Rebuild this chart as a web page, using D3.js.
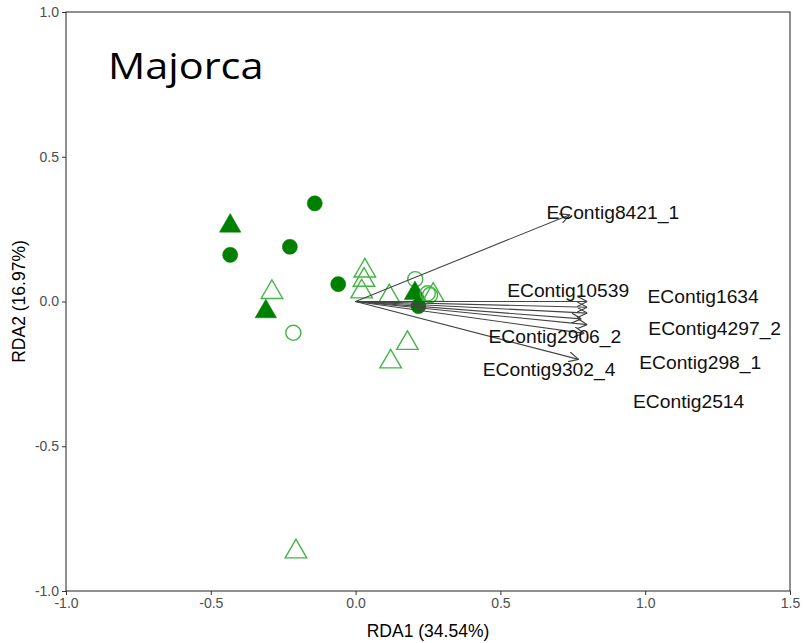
<!DOCTYPE html>
<html>
<head>
<meta charset="utf-8">
<script src="https://cdn.jsdelivr.net/npm/d3@7"></script>
<style>
  body { margin: 0; background: #fff; }
  .tick text { font-family: "Liberation Sans Narrow", "Liberation Sans", Arial, sans-serif; font-size: 14px; fill: #4d4d4d; }
  .tick line { stroke: #333; }
  .domain { display: none; }
</style>
</head>
<body>
<div id="chart"></div>
<script>
// samples (site scores)
var sampleRDA1   = [-0.141, -0.433, -0.433, -0.227, -0.060, -0.289, -0.310, -0.215, 0.032, 0.029, 0.021, 0.116, 0.206, 0.205, 0.217, 0.249, 0.257, 0.268, 0.179, 0.121, -0.206];
var sampleRDA2   = [ 0.339,  0.261,  0.161,  0.189,  0.060,  0.032, -0.035, -0.108, 0.106, 0.074, 0.034, 0.017, 0.077, 0.028, -0.016, 0.028, 0.022, 0.022, -0.144, -0.208, -0.864];
var sampleShape  = ["circle", "triangle", "circle", "circle", "circle", "triangle", "triangle", "circle", "triangle", "triangle", "triangle", "triangle", "circle", "triangle", "circle", "circle", "circle", "triangle", "triangle", "triangle", "triangle"];
var sampleFilled = [true, true, true, true, true, false, true, false, false, false, false, false, false, true, true, false, false, false, false, false, false];

// contig loadings (arrows) and label positions
var contigNames = ["EContig8421_1", "EContig10539", "EContig1634", "EContig4297_2", "EContig2906_2", "EContig298_1", "EContig9302_4", "EContig2514"];
var arrowRDA1   = [0.74, 0.80, 0.80, 0.80, 0.78, 0.80, 0.77, 0.79];
var arrowRDA2   = [0.30, 0.00, -0.02, -0.04, -0.06, -0.08, -0.20, -0.11];
var labelRDA1   = [0.888, 0.734, 1.200, 1.240, 0.688, 1.190, 0.668, 1.150];
var labelRDA2   = [0.306, 0.036, 0.016, -0.095, -0.123, -0.210, -0.235, -0.345];

var xTicks = [-1.0, -0.5, 0.0, 0.5, 1.0, 1.5];
var yTicks = [-1.0, -0.5, 0.0, 0.5, 1.0];

var margin = {top: 12, right: 16, bottom: 52, left: 66},
    width  = 806 - margin.left - margin.right,
    height = 643 - margin.top  - margin.bottom;

var svg = d3.select("#chart").append("svg")
    .attr("width", 806)
    .attr("height", 643)
  .append("g")
    .attr("transform", "translate(" + margin.left + "," + margin.top + ")");

var x = d3.scaleLinear().domain([-1, 1.5]).range([0, width]);
var y = d3.scaleLinear().domain([-1, 1]).range([height, 0]);

var fmt = function (d) { return d.toFixed(1); };

svg.append("defs").append("marker")
    .attr("id", "head")
    .attr("viewBox", "0 0 10 10")
    .attr("refX", 10).attr("refY", 5)
    .attr("markerWidth", 10).attr("markerHeight", 10)
    .attr("markerUnits", "userSpaceOnUse")
    .attr("orient", "auto")
  .append("path")
    .attr("d", "M0,0 L10,5 L0,10")
    .attr("fill", "none")
    .attr("stroke", "#444")
    .attr("stroke-width", 1.2);

// axes
svg.append("g")
    .attr("transform", "translate(0," + height + ")")
    .call(d3.axisBottom(x).tickValues(xTicks).tickFormat(fmt).tickSize(4).tickPadding(3));

svg.append("g")
    .call(d3.axisLeft(y).tickValues(yTicks).tickFormat(fmt).tickSize(4).tickPadding(3));

// panel border
svg.append("rect")
    .attr("width", width)
    .attr("height", height)
    .attr("fill", "none")
    .attr("stroke", "#333")
    .attr("stroke-width", 1.1);

// samples
var samples = sampleRDA1.map(function (d, i) {
  return {x: d, y: sampleRDA2[i], shape: sampleShape[i], filled: sampleFilled[i]};
});

var sym = {
  circle: d3.symbol().type(d3.symbolCircle).size(180),
  triangle: d3.symbol().type(d3.symbolTriangle).size(200)
};

svg.selectAll("path.pt")
    .data(samples)
  .enter().append("path")
    .attr("class", "pt")
    .attr("transform", function (d) { return "translate(" + x(d.x) + "," + y(d.y) + ")"; })
    .attr("d", function (d) { return sym[d.shape](); })
    .attr("fill", function (d) { return d.filled ? "#008000" : "none"; })
    .attr("stroke", function (d) { return d.filled ? "#008000" : "#46b446"; })
    .attr("stroke-width", function (d) { return d.filled ? 0.5 : 1.4; });

// arrows
var arrows = contigNames.map(function (n, i) {
  return {name: n, x: arrowRDA1[i], y: arrowRDA2[i], lx: labelRDA1[i], ly: labelRDA2[i]};
});

svg.selectAll("line.arrow")
    .data(arrows)
  .enter().append("line")
    .attr("class", "arrow")
    .attr("x1", x(0)).attr("y1", y(0))
    .attr("x2", function (d) { return x(d.x); })
    .attr("y2", function (d) { return y(d.y); })
    .attr("stroke", "#444")
    .attr("stroke-width", 1.1)
    .attr("marker-end", "url(#head)");

svg.selectAll("text.lab")
    .data(arrows)
  .enter().append("text")
    .attr("class", "lab")
    .attr("transform", function (d) { return "translate(" + x(d.lx) + "," + y(d.ly) + ") scale(1.07,1)"; })
    .attr("dy", "0.35em")
    .attr("text-anchor", "middle")
    .style("font-family", "'Liberation Sans', Arial, sans-serif")
    .style("font-size", "18px")
    .style("fill", "#111")
    .text(function (d) { return d.name; });

// axis titles
svg.append("text")
    .attr("x", width / 2)
    .attr("y", height + 46)
    .attr("text-anchor", "middle")
    .style("font-family", "'Liberation Sans', Arial, sans-serif")
    .style("font-size", "17.5px")
    .text("RDA1 (34.54%)");

svg.append("text")
    .attr("transform", "rotate(-90)")
    .attr("x", -height / 2)
    .attr("y", -41)
    .attr("text-anchor", "middle")
    .style("font-family", "'Liberation Sans', Arial, sans-serif")
    .style("font-size", "17.5px")
    .text("RDA2 (16.97%)");

// panel title
svg.append("text")
    .attr("transform", "translate(42,67) scale(1.12,1)")
    .style("font-family", "'Open Sans', Lato, sans-serif")
    .style("font-size", "37px")
    .style("fill", "#000")
    .text("Majorca");
</script>
</body>
</html>
